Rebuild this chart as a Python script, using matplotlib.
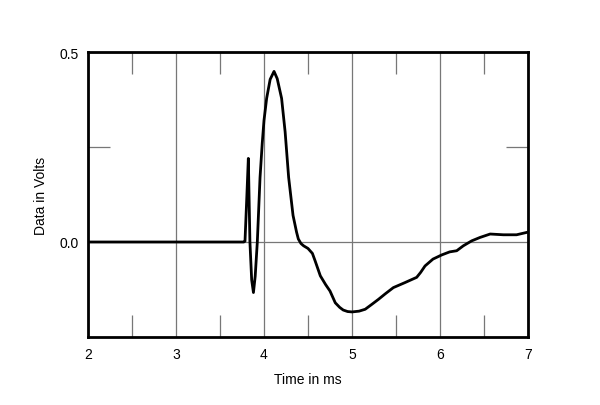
import matplotlib
matplotlib.use("Agg")
import matplotlib.pyplot as plt
from matplotlib.ticker import FixedLocator

plt.rcParams['font.family'] = ['Liberation Sans', 'DejaVu Sans']

time_ms = [2.0, 3.77, 3.784, 3.805, 3.822, 3.84, 3.86, 3.88, 3.90, 3.924, 3.955, 3.98,
           4.00, 4.03, 4.07, 4.114, 4.15, 4.20, 4.24, 4.28, 4.33, 4.37, 4.39, 4.42,
           4.45, 4.50, 4.55, 4.58, 4.64, 4.70, 4.75, 4.81, 4.86, 4.90, 4.95, 5.00,
           5.08, 5.15, 5.22, 5.30, 5.38, 5.47, 5.60, 5.735, 5.78, 5.83, 5.92, 6.02,
           6.11, 6.19, 6.265, 6.36, 6.455, 6.57, 6.72, 6.87, 7.0]
volts = [0.0, 0.0, 0.002, 0.12, 0.22, 0.0, -0.1, -0.133, -0.09, 0.0, 0.17, 0.26,
         0.32, 0.378, 0.428, 0.449, 0.43, 0.378, 0.29, 0.17, 0.07, 0.026, 0.008, -0.004,
         -0.01, -0.017, -0.03, -0.049, -0.089, -0.112, -0.129, -0.16, -0.172, -0.179, -0.183, -0.184,
         -0.182, -0.177, -0.165, -0.151, -0.136, -0.12, -0.107, -0.093, -0.08, -0.063, -0.045, -0.034,
         -0.026, -0.023, -0.01, 0.003, 0.012, 0.021, 0.019, 0.019, 0.026]

x_major = [2, 3, 4, 5, 6, 7]
x_minor = [2.5, 3.5, 4.5, 5.5, 6.5]
y_major = [0.0, 0.5]
y_minor = [0.25]
y_labels = ["0.0", "0.5"]

fig = plt.figure(figsize=(6.0, 4.06), dpi=100)
ax = fig.add_axes([88/600, 68/406, 440/600, 285/406])

ax.plot(time_ms, volts, color='black', lw=2.0, solid_joinstyle='round', zorder=3)

ax.set_xlim(2, 7)
ax.set_ylim(-0.25, 0.5)

ax.xaxis.set_major_locator(FixedLocator(x_major))
ax.xaxis.set_minor_locator(FixedLocator(x_minor))
ax.yaxis.set_major_locator(FixedLocator(y_major))
ax.yaxis.set_minor_locator(FixedLocator(y_minor))
ax.set_yticklabels(y_labels)

ax.grid(True, which='major', color='#777777', lw=0.9)
ax.tick_params(which='major', length=0, labelsize=10, pad=7)
ax.tick_params(which='minor', direction='in', length=16, width=0.9, color='#777777',
               top=True, right=True)

for s in ax.spines.values():
    s.set_linewidth(2)
    s.set_color('black')

ax.set_xlabel("Time in ms", fontsize=10, labelpad=8)
ax.set_ylabel("Data in Volts", fontsize=10, labelpad=8)

fig.savefig("out.png", dpi=100)
